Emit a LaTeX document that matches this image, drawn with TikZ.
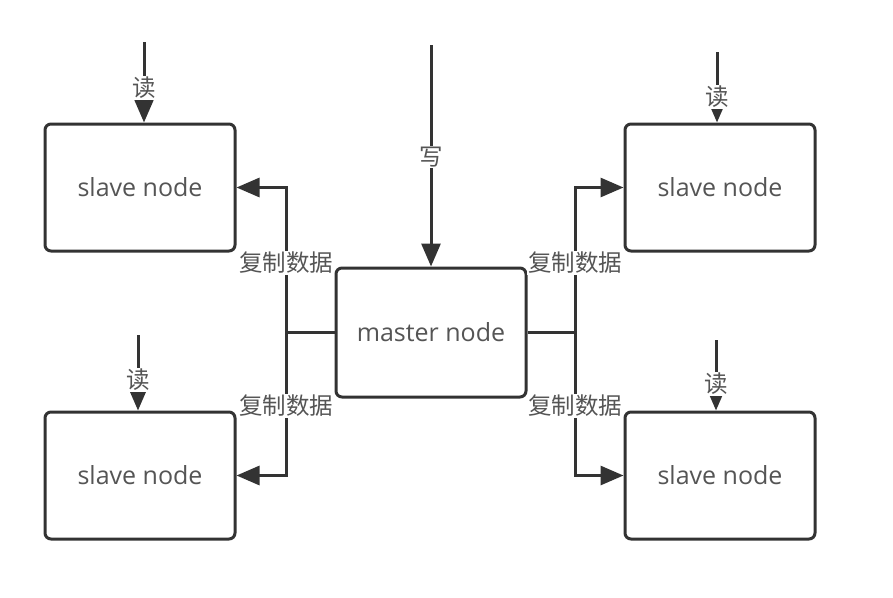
\documentclass[tikz,border=0pt]{standalone}
\usepackage{fontspec}
\setmainfont{Open Sans}
\newfontfamily\cjk{Noto Sans CJK SC}
\usetikzlibrary{arrows.meta}
\definecolor{linec}{HTML}{333333}
\definecolor{txtc}{HTML}{555555}
\begin{document}
\begin{tikzpicture}[x=1pt,y=-1pt,
  box/.style={draw=linec, line width=3pt, rounded corners=6pt, minimum width=190pt, minimum height=127pt, inner sep=0pt, text=txtc, font=\fontsize{25}{30}\selectfont},
  plain/.style={draw=linec, line width=3pt},
  conn/.style={draw=linec, line width=3pt, -{Triangle[length=23pt,width=19pt]}},
  lbl/.style={fill=white, text=txtc, inner sep=1pt, font=\cjk\fontsize{23.5}{28}\selectfont}]
\useasboundingbox (0,0) rectangle (893,597);
\fill[white] (0,0) rectangle (893,597);
% boxes
\node[box] (tl) at (140,187.5) {slave node};
\node[box] (tr) at (720,187.5) {slave node};
\node[box] (bl) at (140,475.5) {slave node};
\node[box] (br) at (720,475.5) {slave node};
\node[box, minimum height=129pt] (m) at (431,332.5) {master node};
% trunks
\coordinate (trL) at (286,332.5);
\coordinate (trR) at (575,332.5);
\draw[plain] (m.west) -- (trL);
\draw[plain] (m.east) -- (trR);
\draw[conn] (trL) |- (tl.east);
\draw[conn] (trL) |- (bl.east);
\draw[conn] (trR) |- (tr.west);
\draw[conn] (trR) |- (br.west);
\node[lbl] (c1) at (286,263) {复制数据};
\node[lbl] (c2) at (286,406) {复制数据};
\node[lbl] (c3) at (575,263) {复制数据};
\node[lbl] (c4) at (575,406) {复制数据};
% write
\coordinate (w) at (431,45);
\draw[conn] (w) -- (m.north);
\node[lbl] (wl) at (431,157) {写};
% reads
\coordinate (r1) at (144,42);
\coordinate (r2) at (717,52);
\coordinate (r3) at (138,335);
\coordinate (r4) at (716,340);
\draw[conn] (r1) -- (r1 |- tl.north);
\draw[conn] (r2) -- (r2 |- tr.north);
\draw[conn] (r3) -- (r3 |- bl.north);
\draw[conn] (r4) -- (r4 |- br.north);
\node[lbl] (l1) at (144,88) {读};
\node[lbl] (l2) at (717,97) {读};
\node[lbl] (l3) at (138,380) {读};
\node[lbl] (l4) at (716,384) {读};
\end{tikzpicture}
\end{document}
